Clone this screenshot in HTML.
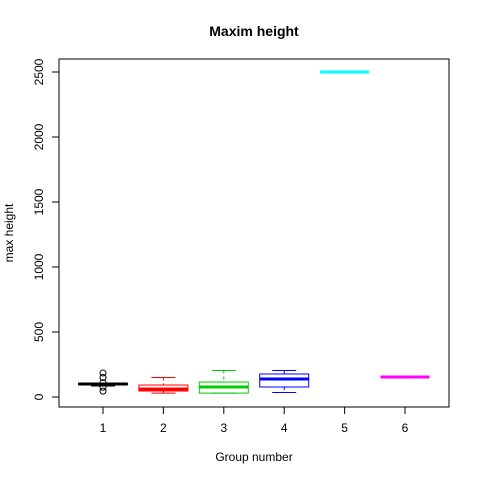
<!DOCTYPE html>
<html><head><meta charset="utf-8"><style>body{margin:0;background:#fff}svg{display:block;font-family:"Liberation Sans",sans-serif}</style></head>
<body>
<svg id="c" width="480" height="480"></svg>
<script>
const groups=["1","2","3","4","5","6"];
const colors=["#000000","#ff0000","#00cd00","#0000ff","#00ffff","#ff00ff"];
const q1=[95,46,30,77,2500,154];
const med=[100,62,77,138,2500,154];
const q3=[105,92,115,177,2500,154];
const wlo=[85,30,30,35,2500,154];
const whi=[108,150,204,204,2500,154];
const outliers=[[185,150,110,75,45],[],[],[],[],[]];
const yTicks=[0,500,1000,1500,2000,2500];
const NS="http://www.w3.org/2000/svg";
const svg=document.getElementById('c');
const y=v=>397-v*0.13;
const x=i=>103+i*60.4;
function mk(t,a,p){const e=document.createElementNS(NS,t);for(const k in a)e.setAttribute(k,a[k]);(p||svg).appendChild(e);return e;}
let r=mk('rect',{x:59,y:59,width:390,height:348,fill:'none',stroke:'#000'});


let t=mk('text',{x:254,y:36,'text-anchor':'middle','font-size':14,'font-weight':'bold'});t.textContent='Maxim height';


t=mk('text',{x:254,y:461,'text-anchor':'middle','font-size':12});t.textContent='Group number';


t=mk('text',{x:13,y:233,'text-anchor':'middle','font-size':12,transform:'rotate(-90 13 233)'});t.textContent='max height';


mk('line',{x1:59,x2:59,y1:y(0),y2:y(2500),stroke:'#000'});
yTicks.forEach(v=>{mk('line',{x1:52,x2:59,y1:y(v),y2:y(v),stroke:'#000'});
 const l=mk('text',{x:43,y:y(v),'text-anchor':'middle','font-size':12,transform:`rotate(-90 43 ${y(v)})`});l.textContent=v;
 
 });
mk('line',{x1:x(0),x2:x(5),y1:407,y2:407,stroke:'#000'});
groups.forEach((g,i)=>{
 mk('line',{x1:x(i),x2:x(i),y1:407,y2:414,stroke:'#000'});
 const l=mk('text',{x:x(i),y:432,'text-anchor':'middle','font-size':12});l.textContent=g;
 
 
 const gr=mk('g',{stroke:colors[i],fill:'none'});
 
 
 const cx=x(i),hw=24.5;
 mk('line',{x1:cx,x2:cx,y1:y(whi[i]),y2:y(q3[i]),'stroke-dasharray':'3,3'},gr);
 mk('line',{x1:cx,x2:cx,y1:y(q1[i]),y2:y(wlo[i]),'stroke-dasharray':'3,3'},gr);
 mk('line',{x1:cx-12,x2:cx+12,y1:y(whi[i]),y2:y(whi[i])},gr);
 mk('line',{x1:cx-12,x2:cx+12,y1:y(wlo[i]),y2:y(wlo[i])},gr);
 mk('rect',{x:cx-hw,y:y(q3[i]),width:2*hw,height:Math.max(0,y(q1[i])-y(q3[i]))},gr);
 mk('line',{x1:cx-hw,x2:cx+hw,y1:y(med[i]),y2:y(med[i]),'stroke-width':3},gr);
 outliers[i].forEach(v=>mk('circle',{cx:cx,cy:y(v),r:3},gr));
});
</script>
</body></html>
